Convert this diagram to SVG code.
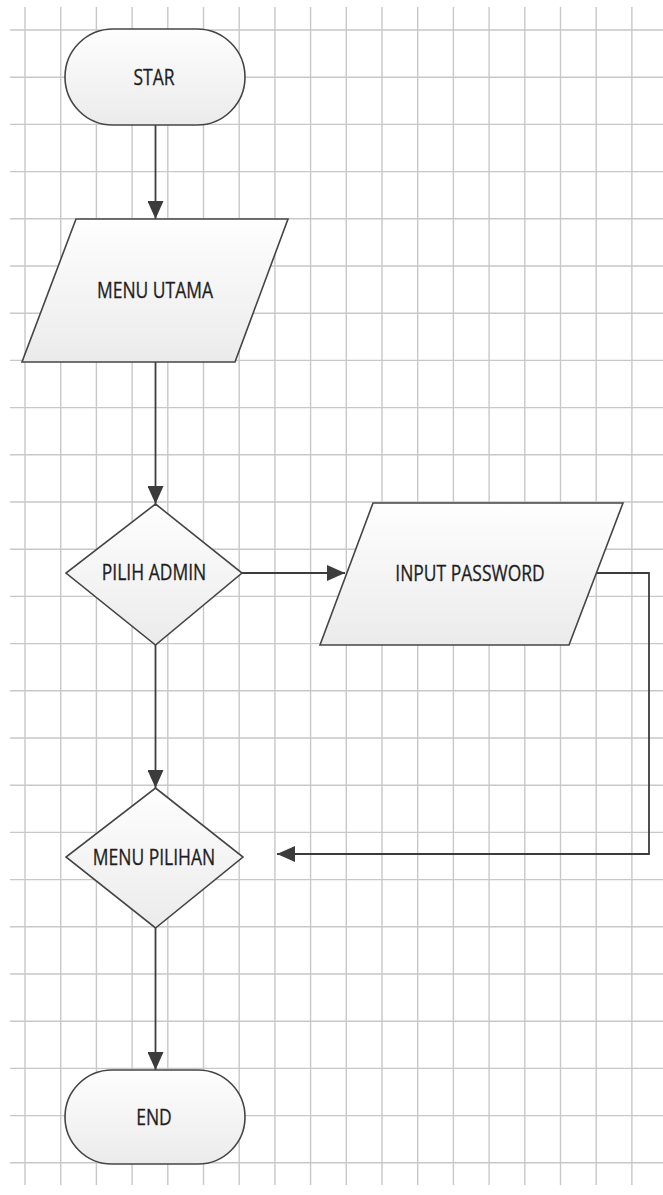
<svg xmlns="http://www.w3.org/2000/svg" width="663" height="1195" viewBox="0 0 663 1195">
  <style>
    .grid { stroke: #c8c8c8; stroke-width: 1.4; fill: none; }
    .shape { fill: url(#fillGrad); stroke: #454545; stroke-width: 1.6; }
    .conn { fill: none; stroke: #3c3c3c; stroke-width: 1.8; marker-end: url(#arrow); }
    .label { font-family: "Open Sans", "Liberation Sans", sans-serif; font-size: 17.5px; fill: #1e1e1e; stroke: #1e1e1e; stroke-width: 0.25; text-anchor: middle; }
  </style>
  <defs>
    <linearGradient id="fillGrad" x1="0" y1="0" x2="0" y2="1">
      <stop offset="0" stop-color="#fefefe"/>
      <stop offset="1" stop-color="#ebebeb"/>
    </linearGradient>
    <marker id="arrow" markerUnits="userSpaceOnUse" markerWidth="18" markerHeight="16" refX="18" refY="8" orient="auto">
      <path d="M0,0 L18,8 L0,16 Z" fill="#3c3c3c"/>
    </marker>
  </defs>

  <rect width="663" height="1195" fill="#ffffff"/>

  <!-- background grid -->
  <g id="grid" class="grid">
    <path d="M25,7V1185 M60.7,7V1185 M96.4,7V1185 M132.1,7V1185 M167.8,7V1185 M203.5,7V1185 M239.2,7V1185 M274.9,7V1185 M310.6,7V1185 M346.3,7V1185 M382,7V1185 M417.7,7V1185 M453.4,7V1185 M489.1,7V1185 M524.8,7V1185 M560.5,7V1185 M596.2,7V1185 M631.9,7V1185"/>
    <path d="M10,30H663 M10,77.2H663 M10,124.4H663 M10,171.6H663 M10,218.8H663 M10,266H663 M10,313.2H663 M10,360.4H663 M10,407.6H663 M10,454.8H663 M10,502H663 M10,549.2H663 M10,596.4H663 M10,643.6H663 M10,690.8H663 M10,738H663 M10,785.2H663 M10,832.4H663 M10,879.6H663 M10,926.8H663 M10,974H663 M10,1021.2H663 M10,1068.4H663 M10,1115.6H663 M10,1162.8H663"/>
  </g>

  <!-- connectors -->
  <g id="connectors">
    <path class="conn" d="M155.5,125 V219"/>
    <path class="conn" d="M155.5,362 V504"/>
    <path class="conn" d="M242,573 H345"/>
    <path class="conn" d="M155.5,645 V788"/>
    <path class="conn" d="M596,573 H649 V854 H277"/>
    <path class="conn" d="M155.5,928 V1070"/>
  </g>

  <g id="start">
    <rect class="shape" x="65" y="29" width="180" height="96" rx="48" ry="48"/>
    <text class="label" transform="translate(154,77) scale(1,1.2)" y="6.3">STAR</text>
  </g>

  <g id="menu-utama">
    <polygon class="shape" points="76,219 288,219 235,362 22,362"/>
    <text class="label" transform="translate(155,290) scale(1,1.2)" y="6.3">MENU UTAMA</text>
  </g>

  <g id="pilih-admin">
    <polygon class="shape" points="155.5,504 242,573 155.5,645 66,573"/>
    <text class="label" transform="translate(154,572) scale(1,1.2)" y="6.3">PILIH ADMIN</text>
  </g>

  <g id="input-password">
    <polygon class="shape" points="373,503 623,503 569,645 320,645"/>
    <text class="label" transform="translate(470,573) scale(1,1.2)" y="6.3">INPUT PASSWORD</text>
  </g>

  <g id="menu-pilihan">
    <polygon class="shape" points="155.5,788 243,857 155.5,928 66,857"/>
    <text class="label" transform="translate(154,857) scale(1,1.2)" y="6.3">MENU PILIHAN</text>
  </g>

  <g id="end">
    <rect class="shape" x="65" y="1070" width="180" height="94" rx="47" ry="47"/>
    <text class="label" transform="translate(154,1117) scale(1,1.2)" y="6.3">END</text>
  </g>
</svg>
